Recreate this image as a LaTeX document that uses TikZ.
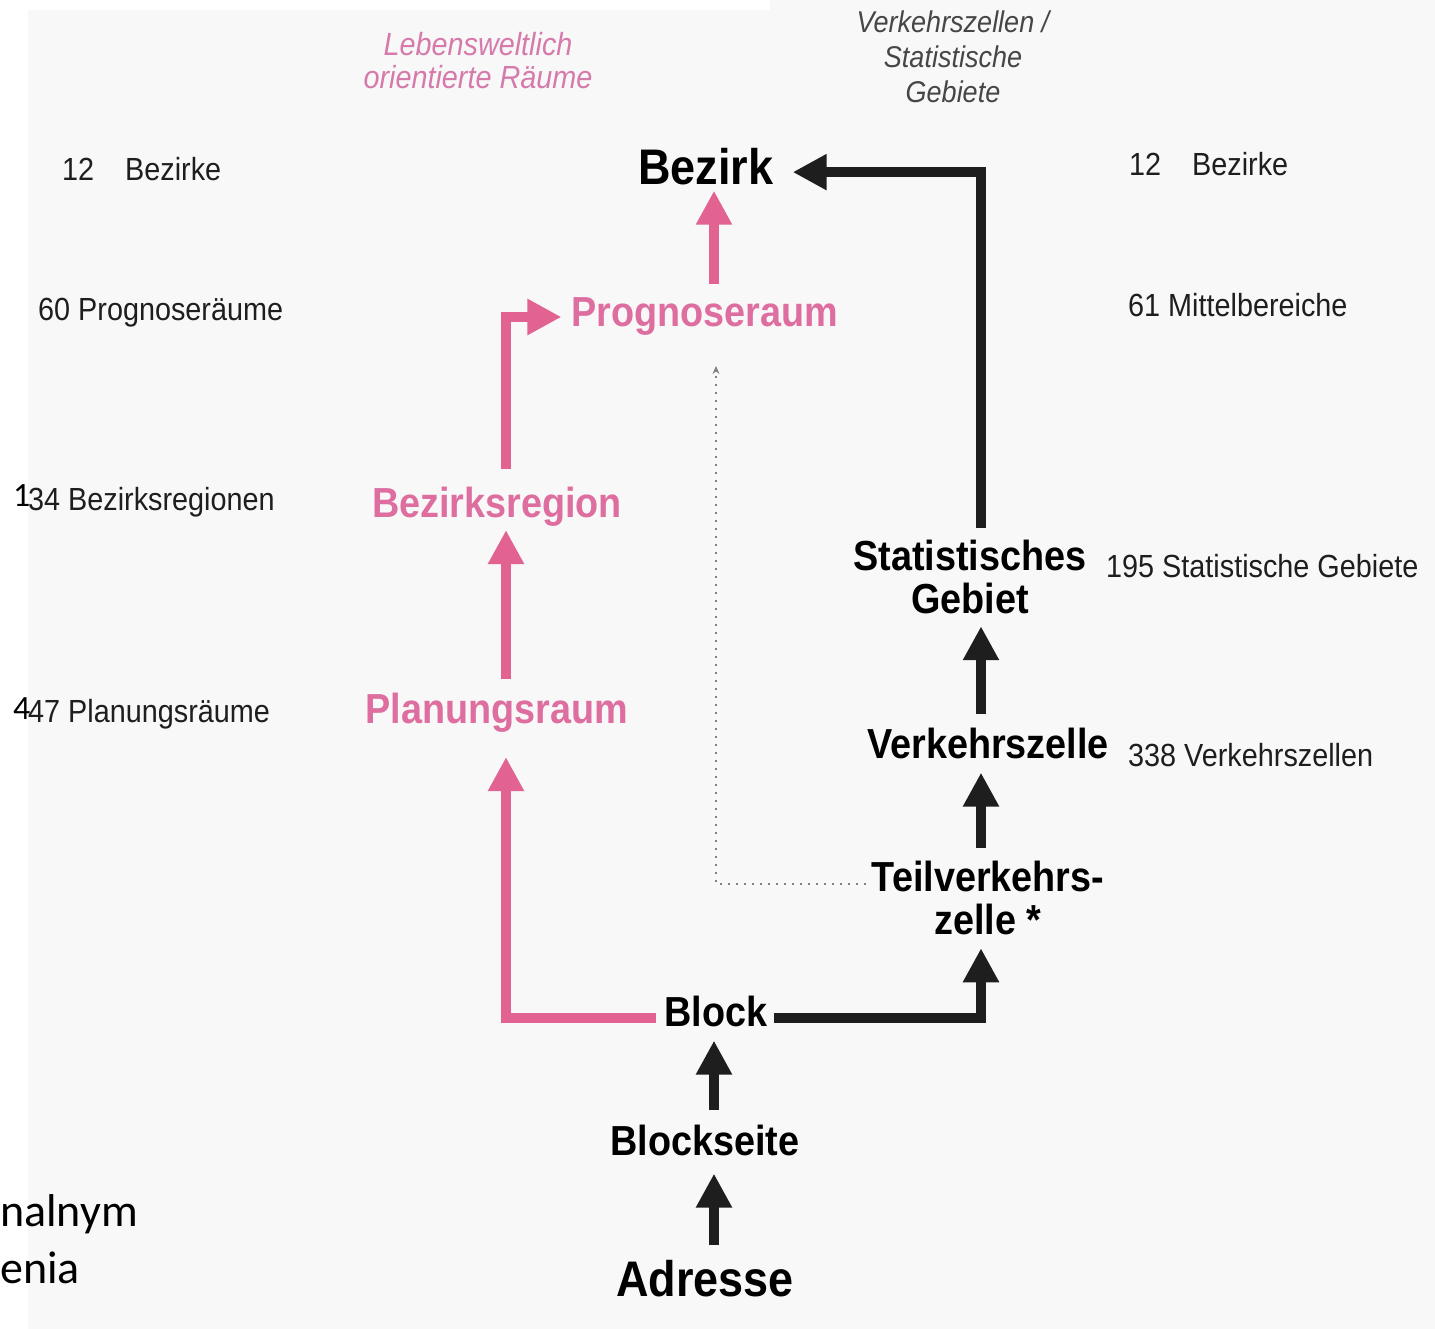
\documentclass[tikz,border=0pt]{standalone}
\usepackage{fontspec}
\setmainfont{Liberation Sans}[FakeStretch=0.9]
\newfontfamily\calib{Carlito}
\usetikzlibrary{arrows.meta}

\definecolor{pinkC}{RGB}{226,98,146}
\definecolor{pinkT}{RGB}{222,110,160}
\definecolor{pinkH}{RGB}{214,122,172}
\definecolor{grayH}{RGB}{70,70,70}
\definecolor{paper}{RGB}{248,248,248}
\definecolor{inkC}{RGB}{30,30,30}

\tikzset{
    lvl/.style={inner sep=0pt, font=\fontsize{42}{43}\selectfont\bfseries, align=center},
    lvlpink/.style={lvl, text=pinkT},
    lvlbig/.style={lvl, font=\fontsize{50}{52}\selectfont\bfseries},
    cnt/.style={inner sep=0pt, anchor=base west, text=inkC, font=\fontsize{32}{36}\selectfont},
    pinkarr/.style={line width=10pt, draw=pinkC, line join=miter,
        -{Triangle[width=34pt,length=34pt]}},
    blackarr/.style={line width=10pt, draw=inkC, line join=miter,
        -{Triangle[width=34pt,length=34pt]}},
    dotline/.style={draw=gray, line width=1.5pt, dash pattern=on 2pt off 6pt,
        -{Stealth[length=8pt,width=7pt]}}
}

\begin{document}
\begin{tikzpicture}[x=1pt, y=-1pt]

    % Page and scanned paper
    \useasboundingbox (0,0) rectangle (1435,1329);
    \fill[paper] (28,10) rectangle (1435,1329);
    \fill[paper] (770,0) rectangle (1435,10);

    % Column headers
    \node[inner sep=0pt, anchor=base, text=pinkH, align=center,
        font=\fontsize{32}{33}\selectfont\itshape] (hdl) at (478,89)
        {Lebensweltlich\\orientierte Räume};
    \node[inner sep=0pt, anchor=base, text=grayH, align=center,
        font=\fontsize{30}{35}\selectfont\itshape] (hdr) at (953,103)
        {Verkehrszellen /\\Statistische\\Gebiete};

    % Levels, pink branch
    \node[lvlbig, anchor=base] (bez) at (706,185) {Bezirk};
    \node[lvlpink, anchor=base] (prog) at (705,327) {Prognoseraum};
    \node[lvlpink, anchor=base] (breg) at (497,517) {Bezirksregion};
    \node[lvlpink, anchor=base] (plan) at (497,723) {Planungsraum};

    % Levels, black branch
    \node[lvl, anchor=north] (stat) at (970,540) {Statistisches\\Gebiet};
    \node[lvl, anchor=base] (verk) at (988,758) {Verkehrszelle};
    \node[lvl, anchor=north] (teil) at (988,861) {Teilverkehrs-\\zelle *};
    \node[lvl, anchor=base] (block) at (716,1026) {Block};
    \node[lvl, anchor=base] (bseite) at (705,1155) {Blockseite};
    \node[lvlbig, anchor=base] (adr) at (705,1296) {Adresse};

    % Counts, left
    \node[cnt] (nl1) at (62,181) {12\kern31pt Bezirke};
    \node[cnt] (nl2) at (38,321) {60 Prognoseräume};
    \node[cnt] (nl3) at (28,510) {34 Bezirksregionen};
    \node[cnt] (nl4) at (28,722) {47 Planungsräume};
    \node[inner sep=0pt, anchor=base west, font=\fontsize{34}{36}\selectfont\calib]
        (ml3) at (13,506) {1};
    \node[inner sep=0pt, anchor=base west, font=\fontsize{34}{36}\selectfont\calib]
        (ml4) at (13,719) {4};

    % Counts, right
    \node[cnt] (nr1) at (1129,176) {12\kern31pt Bezirke};
    \node[cnt] (nr2) at (1128,317) {61 Mittelbereiche};
    \node[cnt] (nr3) at (1106,577) {195 Statistische Gebiete};
    \node[cnt] (nr4) at (1128,766) {338 Verkehrszellen};

    % Overlaid text, bottom left
    \node[inner sep=0pt, anchor=base west, align=left,
        font=\fontsize{46}{57}\selectfont\calib] (ovl) at (0,1283)
        {nalnym\\enia};

    % Columns of the arrows
    \coordinate (colL) at (506,0);
    \coordinate (colM) at (714,0);
    \coordinate (colR) at (981,0);
    \coordinate (dotend) at (716,366);

    % Pink arrows
    \draw[pinkarr] ([yshift=14pt]prog.north -| colM) -- ([yshift=-5pt]bez.south -| colM);
    \draw[pinkarr] ([yshift=17pt]breg.north -| colL) |- ([xshift=-10pt]prog.west);
    \draw[pinkarr] ([yshift=13pt]plan.north -| colL) -- ([yshift=-4pt]breg.south -| colL);
    \draw[pinkarr] ([xshift=-8pt,yshift=-7pt]block.west) -| ([yshift=-25pt]plan.south -| colL);

    % Black arrows
    \draw[blackarr] ([xshift=6pt,yshift=-7pt]block.east) -| ([yshift=-13pt]teil.south -| colR);
    \draw[blackarr] ([yshift=13pt]teil.north -| colR) -- ([yshift=-14pt]verk.south -| colR);
    \draw[blackarr] ([yshift=13pt]verk.north -| colR) -- ([yshift=-12pt]stat.south -| colR);
    \draw[blackarr] ([yshift=12pt]stat.north -| colR) |- ([xshift=19pt,yshift=-5pt]bez.east);
    \draw[blackarr] ([yshift=14pt]bseite.north -| colM) -- ([yshift=-14pt]block.south -| colM);
    \draw[blackarr] ([yshift=15pt]adr.north -| colM) -- ([yshift=-18pt]bseite.south -| colM);

    % Dotted link
    \draw[dotline] ([xshift=-6pt,yshift=-23pt]teil.north west) -| (dotend);

\end{tikzpicture}
\end{document}
